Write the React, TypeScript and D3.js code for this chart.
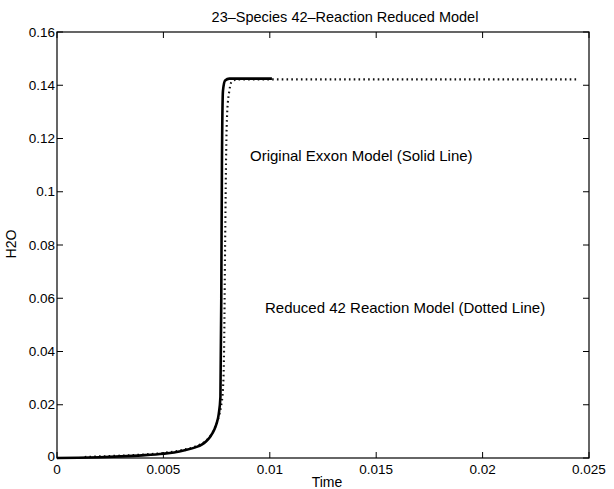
import React from "react";
import * as d3 from "d3";

const xTicks = [0, 0.005, 0.01, 0.015, 0.02, 0.025];
const xTickLabels = ["0", "0.005", "0.01", "0.015", "0.02", "0.025"];
const yTicks = [0, 0.02, 0.04, 0.06, 0.08, 0.1, 0.12, 0.14, 0.16];
const yTickLabels = ["0", "0.02", "0.04", "0.06", "0.08", "0.1", "0.12", "0.14", "0.16"];

// Original Exxon model (solid line)
const timeSolid = [0, 0.001, 0.002, 0.003, 0.004, 0.005, 0.0055, 0.006, 0.0065, 0.0068, 0.007, 0.0072, 0.0074, 0.0075, 0.0076, 0.00768, 0.00772, 0.00775, 0.0078, 0.0079, 0.0081, 0.0101];
const h2oSolid = [0, 0.0001, 0.0003, 0.0006, 0.001, 0.0016, 0.0021, 0.0029, 0.004, 0.005, 0.0062, 0.008, 0.0108, 0.013, 0.0165, 0.023, 0.06, 0.11, 0.138, 0.1418, 0.1425, 0.1425];

// Reduced 42 reaction model (dotted line)
const timeDotted = [0.0013, 0.002, 0.003, 0.004, 0.005, 0.006, 0.0065, 0.007, 0.0072, 0.0074, 0.0076, 0.0077, 0.0078, 0.00785, 0.0079, 0.00795, 0.008, 0.0081, 0.0082, 0.0085, 0.0245];
const h2oDotted = [0.0004, 0.0006, 0.0009, 0.0013, 0.0019, 0.0032, 0.0043, 0.0065, 0.0082, 0.011, 0.0155, 0.019, 0.026, 0.04, 0.08, 0.115, 0.13, 0.138, 0.1412, 0.1422, 0.1422];

const titleText = "23\u2013Species 42\u2013Reaction Reduced Model";
const xLabel = "Time";
const yLabel = "H2O";
const noteSolid = "Original Exxon Model (Solid Line)";
const noteDotted = "Reduced 42 Reaction Model (Dotted Line)";

const W = 614, H = 489;
const L = 57, R = 589, T = 32, B = 458;
const FONT = "'Liberation Sans', Arial, Helvetica, sans-serif";
const FS = 13.5;

export default function App() {
  const x = d3.scaleLinear().domain([0, 0.025]).range([L, R]);
  const y = d3.scaleLinear().domain([0, 0.16]).range([B, T]);
  const solid = timeSolid.map((t, i) => [t, h2oSolid[i]] as [number, number]);
  const dotted = timeDotted.map((t, i) => [t, h2oDotted[i]] as [number, number]);
  const line = d3.line<[number, number]>().x(d => x(d[0])).y(d => y(d[1])).curve(d3.curveMonotoneX);
  const tl = 6;
  return (
    <svg width={W} height={H} style={{ position: "absolute", left: 0, top: 0, background: "#fff" }} fontFamily={FONT}>
      <rect x={0} y={0} width={W} height={H} fill="#fff" />
      <path d={line(dotted) || ""} fill="none" stroke="#111" strokeWidth={2.1} strokeDasharray="1.6 3.2" />
      <path d={line(solid) || ""} fill="none" stroke="#000" strokeWidth={2.6} strokeLinejoin="round" />
      <rect x={L} y={T} width={R - L} height={B - T} fill="none" stroke="#000" strokeWidth={1.2} />
      {xTicks.map((t, i) => (
        <g key={"x" + i}>
          <line x1={x(t)} x2={x(t)} y1={B} y2={B - tl} stroke="#000" />
          <line x1={x(t)} x2={x(t)} y1={T} y2={T + tl} stroke="#000" />
          <text x={x(t)} y={B + 16} fontSize={FS} textAnchor="middle">{xTickLabels[i]}</text>
        </g>
      ))}
      {yTicks.map((v, i) => (
        <g key={"y" + i}>
          <line x1={L} x2={L + tl} y1={y(v)} y2={y(v)} stroke="#000" />
          <line x1={R} x2={R - tl} y1={y(v)} y2={y(v)} stroke="#000" />
          <text x={L - 2} y={y(v) - (i === 0 ? 2 : 0)} dy="0.35em" fontSize={FS} textAnchor="end">{yTickLabels[i]}</text>
        </g>
      ))}
      <text x={345} y={22} fontSize={14.5} textAnchor="middle">{titleText}</text>
      <text x={327} y={487} fontSize={14} textAnchor="middle">{xLabel}</text>
      <text transform={`translate(16,244) rotate(-90)`} fontSize={14} textAnchor="middle">{yLabel}</text>
      <text x={250} y={161} fontSize={15}>{noteSolid}</text>
      <text x={265} y={313} fontSize={15}>{noteDotted}</text>
    </svg>
  );
}
